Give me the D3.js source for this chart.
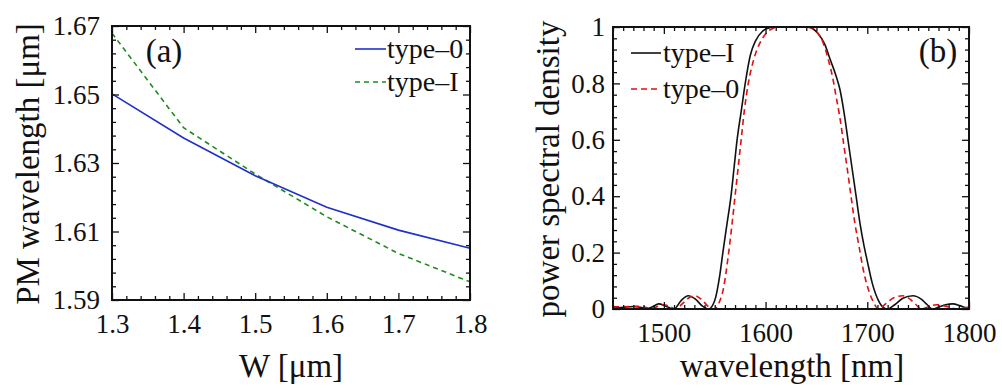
<!DOCTYPE html>
<html>
<head>
<meta charset="utf-8">
<script src="https://cdn.jsdelivr.net/npm/d3@7"></script>
<style>
  body { margin: 0; background: #fff; }
  svg text { font-family: "Liberation Serif", "Times New Roman", serif; }
</style>
</head>
<body>
<svg id="chart" width="1002" height="389"></svg>
<script>
// ---- panel (a) data: phase-matching wavelength vs waveguide width ----
const widths = [1.3, 1.4, 1.5, 1.6, 1.7, 1.8];
const pmType0 = [1.6502, 1.6373, 1.6263, 1.6171, 1.6104, 1.6051];
const pmTypeI = [1.6679, 1.6403, 1.6268, 1.6143, 1.6036, 1.5953];
const aTicksX = [1.3, 1.4, 1.5, 1.6, 1.7, 1.8];
const aTicksY = [1.59, 1.61, 1.63, 1.65, 1.67];

// ---- panel (b) data: power spectral density vs wavelength ----
const lambdaI = [1450, 1460, 1470, 1477, 1483, 1489, 1495, 1502, 1510, 1517, 1524, 1531, 1538, 1544,
  1550, 1555, 1558, 1562, 1566, 1569, 1572, 1576, 1580, 1585, 1590, 1597, 1605, 1612, 1620, 1630,
  1640, 1646, 1652, 1658, 1664, 1669, 1673, 1677, 1681, 1685, 1689, 1693, 1697, 1700, 1705, 1711,
  1716, 1720, 1727, 1735, 1745, 1753, 1759, 1764, 1771, 1777, 1784, 1791, 1797, 1800];
const psdI = [0.003, 0.006, 0.009, 0.006, 0.0, 0.008, 0.018, 0.01, 0.0, 0.03, 0.047, 0.035, 0.01, 0.0,
  0.03, 0.12, 0.2, 0.3, 0.4, 0.5, 0.6, 0.7, 0.8, 0.9, 0.95, 0.985, 0.998, 1.0, 1.0, 1.0,
  1.0, 0.995, 0.975, 0.94, 0.88, 0.83, 0.78, 0.7, 0.6, 0.5, 0.4, 0.3, 0.22, 0.17, 0.09, 0.03,
  0.005, 0.0, 0.015, 0.038, 0.047, 0.035, 0.015, 0.0, 0.008, 0.015, 0.018, 0.012, 0.004, 0.001];

const lambda0 = [1450, 1460, 1470, 1476, 1482, 1488, 1494, 1500, 1506, 1512, 1518, 1524, 1531, 1538,
  1544, 1549, 1554, 1559, 1563, 1567, 1570, 1573, 1576, 1579, 1583, 1588, 1594, 1600, 1607, 1613,
  1630, 1645, 1651, 1657, 1662, 1666, 1669, 1673, 1677, 1681, 1684, 1688, 1692, 1696, 1701, 1706,
  1711, 1718, 1726, 1735, 1742, 1748, 1753, 1760, 1768, 1775, 1782, 1788, 1795, 1800];
const psd0 = [0.008, 0.008, 0.009, 0.01, 0.006, 0.0, 0.01, 0.015, 0.008, 0.0, 0.018, 0.038, 0.047, 0.03,
  0.008, 0.0, 0.02, 0.08, 0.18, 0.3, 0.4, 0.5, 0.6, 0.7, 0.8, 0.88, 0.94, 0.975, 0.995, 1.0,
  1.0, 0.998, 0.98, 0.94, 0.88, 0.82, 0.76, 0.68, 0.58, 0.48, 0.4, 0.3, 0.22, 0.14, 0.07, 0.025,
  0.0, 0.018, 0.04, 0.047, 0.035, 0.015, 0.0, 0.008, 0.015, 0.012, 0.005, 0.0, 0.004, 0.006];
const bTicksX = [1500, 1600, 1700, 1800];
const bTicksY = [0, 0.2, 0.4, 0.6, 0.8, 1];

const FONT = "Liberation Serif";
const INK = "#111";
const svg = d3.select("#chart");

// draws a boxed panel with inward ticks on all four sides
function drawFrame(g, x, y, opt) {
  const [x0, x1] = x.range();
  const [y0, y1] = y.range();

  const axes = [
    [d3.axisBottom(x), `translate(0,${y0})`, opt.xMajor, opt.xMinor, true],
    [d3.axisTop(x), `translate(0,${y1})`, opt.xMajor, opt.xMinor, false],
    [d3.axisLeft(y), `translate(${x0},0)`, opt.yMajor, opt.yMinor, true],
    [d3.axisRight(y), `translate(${x1},0)`, opt.yMajor, opt.yMinor, false]
  ];
  axes.forEach(([ax, tr, major, minor, labelled], i) => {
    const isX = i < 2;
    // minor ticks
    g.append("g").attr("transform", tr)
      .call(ax.tickValues(minor).tickFormat("").tickSizeInner(-4).tickSizeOuter(0))
      .call(s => s.select(".domain").remove());
    // major ticks (+ labels on bottom / left)
    const fmt = labelled ? (isX ? opt.xFmt : opt.yFmt) : () => "";
    const axg = g.append("g").attr("transform", tr)
      .call(ax.tickValues(major).tickFormat(fmt).tickSizeInner(-7).tickSizeOuter(0)
        .tickPadding(isX ? 14 : opt.yPad))
      .call(s => s.select(".domain").remove());
    axg.attr("font-family", FONT).attr("font-size", 27);
    axg.selectAll("text").attr("font-family", FONT).attr("font-size", 27).attr("fill", INK);
  });
  g.selectAll(".tick line").attr("stroke", INK).attr("stroke-width", 1.3);

  g.append("rect")
    .attr("x", x0).attr("y", y1).attr("width", x1 - x0).attr("height", y0 - y1)
    .attr("fill", "none").attr("stroke", INK).attr("stroke-width", 2);
}

function minorTicks(lo, hi, step, major) {
  return d3.range(0, Math.round((hi - lo) / step) + 1)
    .map(i => +(lo + i * step).toFixed(6))
    .filter(v => !major.some(m => Math.abs(m - v) < step / 10));
}

function label(g, x, y, size, txt, anchor, transform) {
  const t = g.append("text").attr("font-family", FONT).attr("font-size", size)
    .attr("fill", INK).attr("text-anchor", anchor || "start").text(txt);
  if (transform) t.attr("transform", transform);
  else t.attr("x", x).attr("y", y);
  return t;
}

// ---------------- panel (a) ----------------
const xa = d3.scaleLinear().domain([1.3, 1.8]).range([112, 470]);
const ya = d3.scaleLinear().domain([1.59, 1.67]).range([300, 26]);
const ga = svg.append("g");

const lineA = d3.line().x(d => xa(d[0])).y(d => ya(d[1]));
ga.append("path")
  .datum(d3.zip(widths, pmTypeI))
  .attr("d", lineA).attr("fill", "none")
  .attr("stroke", "#1f8a1f").attr("stroke-width", 1.6).attr("stroke-dasharray", "5,4");
ga.append("path")
  .datum(d3.zip(widths, pmType0))
  .attr("d", lineA).attr("fill", "none")
  .attr("stroke", "#2030c8").attr("stroke-width", 1.6);

drawFrame(ga, xa, ya, {
  xMajor: aTicksX, xMinor: minorTicks(1.3, 1.8, 0.02, aTicksX), xFmt: d3.format(".1f"),
  yMajor: aTicksY, yMinor: minorTicks(1.59, 1.67, 0.004, aTicksY), yFmt: d3.format(".2f"),
  yPad: 12
});

label(ga, 164, 62, 33, "(a)", "middle");

// legend (a)
const legA = [["type–0", "#2030c8", null], ["type–I", "#1f8a1f", "5,4"]];
legA.forEach(([name, col, dash], i) => {
  const yy = 49 + i * 33;
  ga.append("line").attr("x1", 355).attr("x2", 386).attr("y1", yy).attr("y2", yy)
    .attr("stroke", col).attr("stroke-width", 1.6).attr("stroke-dasharray", dash);
  label(ga, 387, yy + 9, 28, name);
});

label(ga, 291, 377, 33, "W [μm]", "middle");
label(ga, 0, 0, 33, "PM wavelength [μm]", "middle", "translate(39,164) rotate(-90)");

// ---------------- panel (b) ----------------
const xb = d3.scaleLinear().domain([1450, 1800]).range([613, 969]);
const yb = d3.scaleLinear().domain([0, 1]).range([309, 27]);
const gb = svg.append("g");

const lineB = d3.line().x(d => xb(d[0])).y(d => yb(d[1])).curve(d3.curveMonotoneX);
gb.append("path")
  .datum(d3.zip(lambdaI, psdI))
  .attr("d", lineB).attr("fill", "none")
  .attr("stroke", INK).attr("stroke-width", 1.6);
gb.append("path")
  .datum(d3.zip(lambda0, psd0))
  .attr("d", lineB).attr("fill", "none")
  .attr("stroke", "#e01010").attr("stroke-width", 1.6).attr("stroke-dasharray", "6,4");

drawFrame(gb, xb, yb, {
  xMajor: bTicksX, xMinor: minorTicks(1450, 1800, 10, bTicksX), xFmt: d3.format("d"),
  yMajor: bTicksY, yMinor: minorTicks(0, 1, 0.04, bTicksY), yFmt: d3.format("~g"),
  yPad: 8
});

label(gb, 938, 62, 33, "(b)", "middle");

// legend (b)
const legB = [["type–I", INK, null], ["type–0", "#e01010", "6,4"]];
legB.forEach(([name, col, dash], i) => {
  const yy = 53 + i * 36;
  gb.append("line").attr("x1", 631).attr("x2", 661).attr("y1", yy).attr("y2", yy)
    .attr("stroke", col).attr("stroke-width", 1.6).attr("stroke-dasharray", dash);
  label(gb, 663, yy + 9, 28, name);
});

label(gb, 792, 377, 33, "wavelength [nm]", "middle");
label(gb, 0, 0, 33, "power spectral density", "middle", "translate(559,169) rotate(-90)");
</script>
</body>
</html>
